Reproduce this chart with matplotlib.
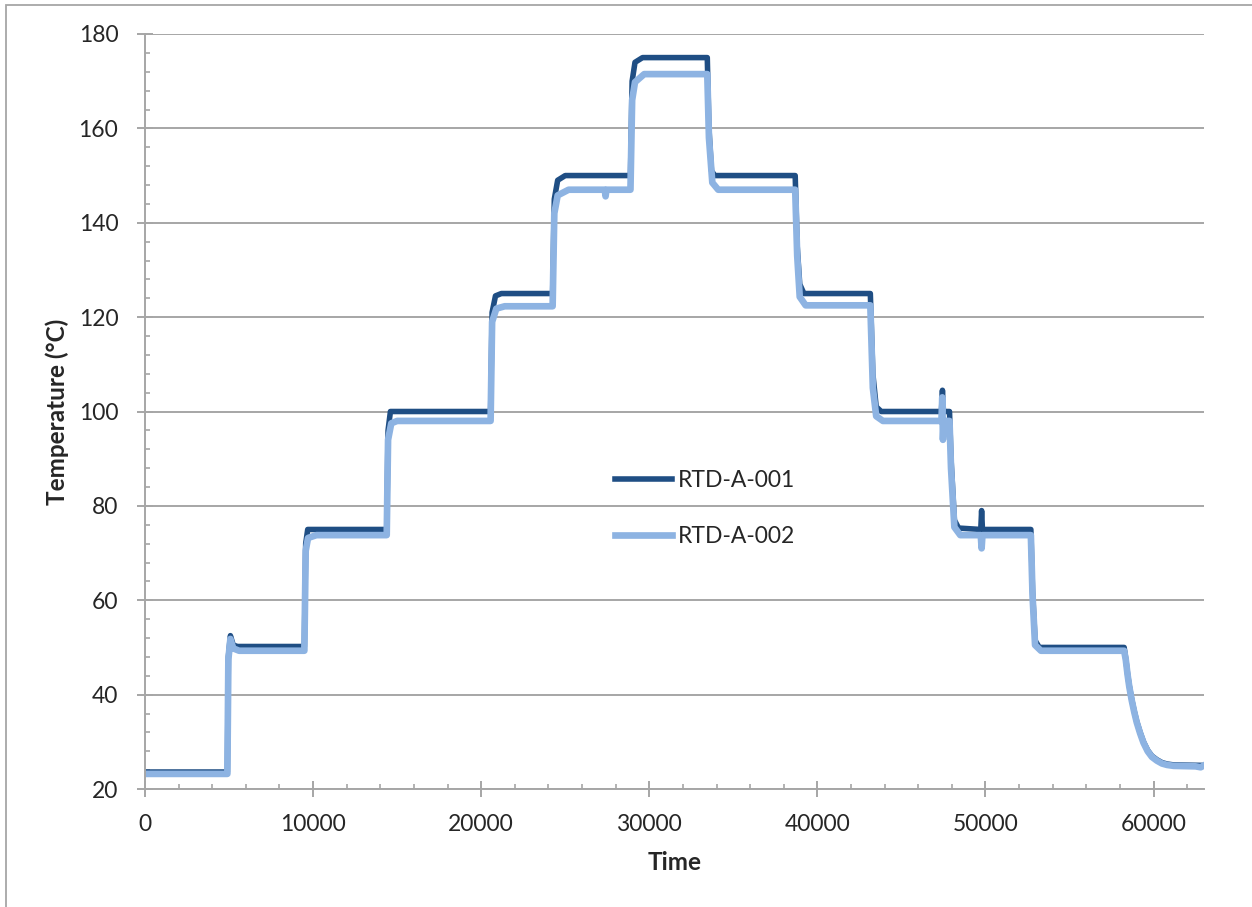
import numpy as np
import matplotlib.pyplot as plt
from matplotlib.patches import Rectangle
from matplotlib.ticker import MultipleLocator

plt.rcParams['font.family'] = ['Lato', 'DejaVu Sans']

# RTD-A-001 (breakpoints)
time_001 = [0, 4900, 4960, 5080, 5250, 5500, 9480, 9560, 9680, 14380, 14460, 14600,
            20560, 20650, 20850, 21200, 24250, 24350, 24550, 25000, 28880, 28980, 29150,
            29600, 33450, 33550, 33700, 33900, 38680, 38800, 38950, 39200, 43150, 43300,
            43500, 43800, 47380, 47440, 47500, 47860, 47950, 48150, 48400, 49720, 49770,
            49820, 52700, 52800, 52950, 53200, 58250, 58350, 58450, 58550, 58700, 58850,
            59000, 59200, 59400, 59650, 59900, 60200, 60500, 60800, 61200, 63000]
temp_001 = [23.6, 23.6, 48, 52.5, 50.5, 50.2, 50.2, 72, 75, 75, 96, 100,
            100, 121, 124.5, 125, 125, 145, 149, 150, 150, 170, 174,
            175, 175, 160, 151, 150, 150, 135, 127, 125, 125, 108,
            101, 100, 100, 104.5, 100, 100, 90, 77, 75.3, 75, 79,
            75, 75, 62, 51.5, 50, 50, 47.5, 44.5, 42, 39, 36.5,
            34.3, 32, 30, 28.2, 27, 26.2, 25.6, 25.3, 25.1, 25]

# RTD-A-002
time_002 = [0, 4900, 4960, 5080, 5250, 5600, 9480, 9560, 9700, 10200, 14380, 14460,
            14650, 15000, 20560, 20650, 20900, 21400, 24250, 24350, 24550, 25200, 27350,
            27400, 27450, 28880, 28980, 29150, 29700, 33450, 33550, 33750, 34100, 38680,
            38800, 38950, 39300, 43150, 43300, 43500, 43900, 47380, 47430, 47470, 47520,
            47860, 47950, 48150, 48500, 49720, 49770, 49820, 52700, 52800, 52950, 53300,
            58250, 58350, 58450, 58550, 58700, 58850, 59000, 59200, 59400, 59650, 59900,
            60200, 60500, 60800, 61200, 62500, 62800, 63000]
temp_002 = [23.2, 23.2, 47.5, 51.8, 49.8, 49.3, 49.3, 70.5, 73.2, 73.8, 73.8, 94,
            97.5, 98, 98, 119, 121.8, 122.3, 122.3, 142, 145.8, 147, 147,
            145.6, 147, 147, 166, 169.8, 171.5, 171.5, 158, 148.5, 147, 147,
            133, 124.3, 122.5, 122.5, 105, 99, 98, 98, 103, 94, 98,
            98, 88, 75.5, 73.8, 73.8, 71, 73.8, 73.8, 61, 50.5, 49.3,
            49.3, 47.3, 44.3, 41.8, 38.8, 36.3, 34.1, 31.8, 29.8, 28, 26.8,
            26, 25.4, 25.1, 24.9, 24.8, 24.6, 25]

assert len(time_001) == len(temp_001) and len(time_002) == len(temp_002)

dark = '#1f4e84'
light = '#8db3e2'
grey = '#a6a6a6'
txt = '#262626'

fig = plt.figure(figsize=(12.52, 9.07), dpi=100)
ax = fig.add_axes([145 / 1252, 1 - 789 / 907, 1059 / 1252, 755 / 907])

ax.plot(time_001, temp_001, color=dark, lw=4.0, solid_joinstyle='round', label='RTD-A-001')
ax.plot(time_002, temp_002, color=light, lw=4.8, solid_joinstyle='round', label='RTD-A-002')

ax.set_xlim(0, 63000)
ax.set_ylim(20, 180)
ax.xaxis.set_major_locator(MultipleLocator(10000))
ax.xaxis.set_minor_locator(MultipleLocator(2000))
ax.yaxis.set_major_locator(MultipleLocator(20))
ax.yaxis.set_minor_locator(MultipleLocator(4))

ax.grid(axis='y', which='major', color=grey, lw=1.4)
ax.set_axisbelow(True)
for s in ['top', 'right']:
    ax.spines[s].set_visible(False)
for s in ['left', 'bottom']:
    ax.spines[s].set_color(grey)
    ax.spines[s].set_linewidth(1.4)

ax.tick_params(which='major', direction='inout', length=11.5, width=1.4, color=grey,
               labelsize=16.5, labelcolor=txt)
ax.tick_params(axis='y', which='major', pad=13.5)
ax.tick_params(axis='x', which='major', pad=12.5)
ax.tick_params(which='minor', direction='in', length=3.6, width=1.2, color=grey)

ax.text(-0.083, 0.5, 'Temperature (°C)', transform=ax.transAxes, rotation=90,
        ha='center', va='center', fontsize=17.5, fontweight='bold', color=txt)
ax.text(0.5, -0.098, 'Time', transform=ax.transAxes, ha='center', va='center',
        fontsize=17.5, fontweight='bold', color=txt)

ax.legend(loc='center left', bbox_to_anchor=(0.4438, 0.3715), frameon=False,
          fontsize=16.5, labelspacing=1.5, handlelength=2.5, handletextpad=0.25,
          borderpad=0, borderaxespad=0, labelcolor=txt)

fig.patches.append(Rectangle((6 / 1252, -0.5), 2, 0.5 + (1 - 5 / 907),
                             transform=fig.transFigure, fill=False,
                             edgecolor=grey, lw=1.3))

fig.savefig('out.png', dpi=100)
